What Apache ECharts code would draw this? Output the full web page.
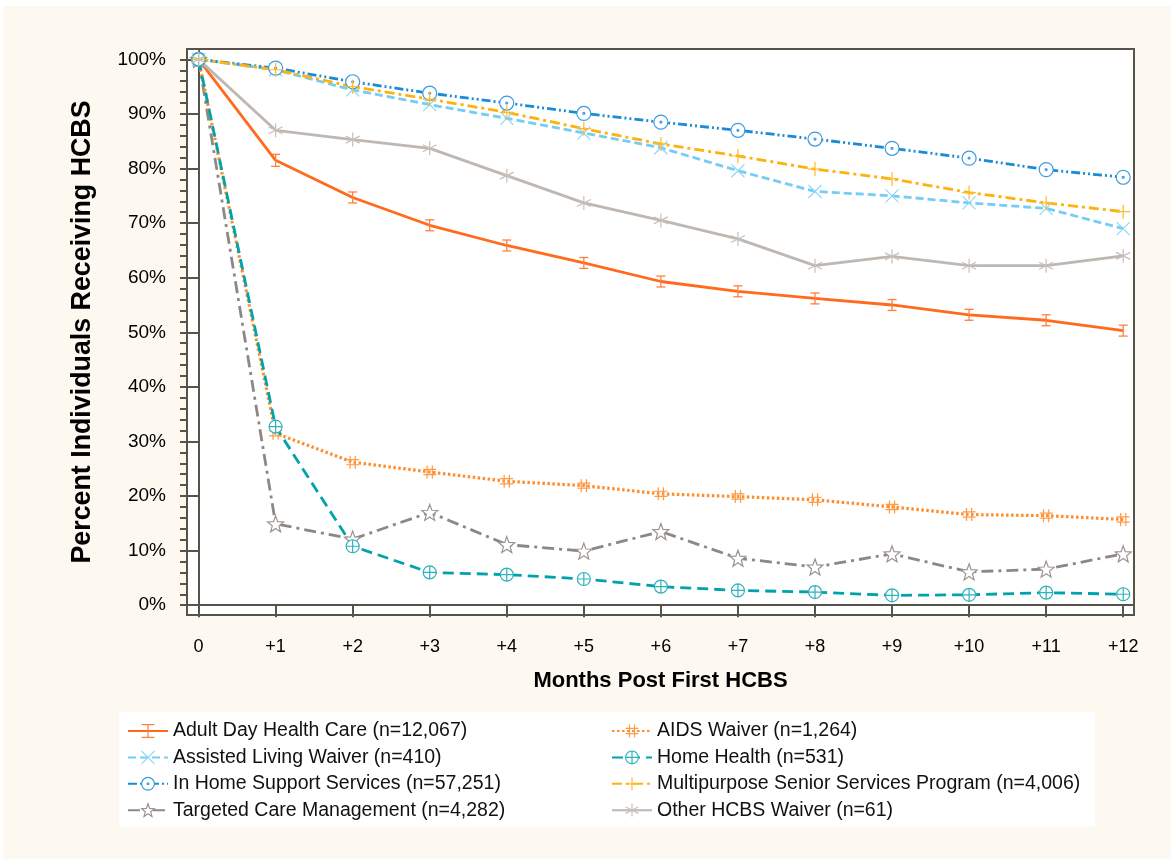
<!DOCTYPE html>
<html>
<head>
<meta charset="utf-8">
<script src="https://cdn.jsdelivr.net/npm/echarts@6/dist/echarts.min.js"></script>
<style>
html,body{margin:0;padding:0;background:#ffffff;}
#chart{width:1171px;height:859px;}
</style>
</head>
<body>
<div id="chart"></div>
<script>
// ---- data ----
const months = [0,1,2,3,4,5,6,7,8,9,10,11,12];
const xLabels = ['0','+1','+2','+3','+4','+5','+6','+7','+8','+9','+10','+11','+12'];
const yTicks = [0,10,20,30,40,50,60,70,80,90,100];
const yMinorTicks = [0,2,4,6,8,10,12,14,16,18,20,22,24,26,28,30,32,34,36,38,40,42,44,46,48,50,52,54,56,58,60,62,64,66,68,70,72,74,76,78,80,82,84,86,88,90,92,94,96,98,100];

const adhc    = [100,81.5,74.7,69.6,65.9,62.7,59.3,57.5,56.2,55.0,53.2,52.2,50.3];
const adhcErr = [0,1.1,1.0,1.0,1.0,1.0,1.0,1.0,1.0,1.0,1.0,1.0,1.0];
const alw     = [100,98.1,94.4,91.7,89.2,86.5,83.8,79.6,75.8,75.0,73.7,72.7,69.0];
const ihss    = [100,98.4,95.9,93.8,92.0,90.1,88.5,87.0,85.4,83.7,81.9,79.8,78.4];
const tcm     = [100,14.9,12.1,17.0,11.1,9.9,13.5,8.6,7.0,9.4,6.1,6.6,9.4];
const aids    = [100,31.5,26.2,24.4,22.7,21.9,20.4,19.9,19.3,18.0,16.6,16.4,15.7];
const hh      = [100,32.7,10.8,6.0,5.6,4.8,3.4,2.7,2.4,1.8,1.9,2.3,2.0];
const mssp    = [100,98.1,95.0,92.7,90.3,87.3,84.5,82.3,79.9,78.1,75.6,73.7,72.1];
const other   = [100,87.0,85.3,83.7,78.7,73.7,70.5,67.1,62.2,63.9,62.2,62.2,64.0];

const names = {
  adhc:'Adult Day Health Care (n=12,067)',
  alw:'Assisted Living Waiver (n=410)',
  ihss:'In Home Support Services (n=57,251)',
  tcm:'Targeted Care Management (n=4,282)',
  aids:'AIDS Waiver (n=1,264)',
  hh:'Home Health (n=531)',
  mssp:'Multipurpose Senior Services Program (n=4,006)',
  other:'Other HCBS Waiver (n=61)'
};

// ---- symbols ----
const SYM = {
  ibeam:'path://M0,0L8,0M4,0L4,12M0,12L8,12',
  cross:'path://M0,0L10,10M10,0L0,10',
  circDot:'path://M10,0A10,10,0,1,1,9.99,0ZM10,8.6A1.4,1.4,0,1,1,9.99,8.6Z',
  plus:'path://M5,0L5,10M0,5L10,5',
  aster:'path://M5,0L5,10M0.67,2.5L9.33,7.5M0.67,7.5L9.33,2.5',
  hash:'path://M3,0L3,10M7,0L7,10M0,3L10,3M0,7L10,7',
  circPlus:'path://M10,0A10,10,0,1,1,9.99,0ZM10,0L10,20M0,10L20,10',
  star:'path://M10,0L12.47,6.6L19.51,6.91L13.99,11.3L15.88,18.09L10,14.2L4.12,18.09L6.01,11.3L0.49,6.91L7.53,6.6Z'
};

const C = {
  adhc:'#ff6a1c', alw:'#74cdf4', ihss:'#1a8bd6', tcm:'#8e8783',
  aids:'#ff8d2c', hh:'#00a2ac', mssp:'#ffb10c', other:'#bfb7b1'
};
const MC = {
  adhc:'#ff7f3f', alw:'#8fd8f7', ihss:'#3a9be0', tcm:'#9a9390',
  aids:'#ff9a45', hh:'#2fb2ba', mssp:'#ffb928', other:'#c6bfba'
};

function lineSeries(key, data, symbol, size, lineType, width, extra) {
  return Object.assign({
    name: names[key],
    type: 'line',
    data: months.map((m,i)=>[m, data[i]]),
    symbol: symbol,
    symbolSize: size,
    lineStyle: {color: C[key], width: width, type: lineType},
    itemStyle: {color: '#ffffff', borderColor: MC[key], borderWidth: 1.2},
    z: 3
  }, extra || {});
}

const FONT = "Arial, 'Liberation Sans', sans-serif";

const series = [
  lineSeries('adhc', adhc, SYM.ibeam, [8,12], 'solid', 2.8, {showSymbol:false}),
  {
    name: names.adhc + ' err',
    type: 'custom',
    data: months.map((m,i)=>[m, adhc[i]-adhcErr[i], adhc[i]+adhcErr[i]]),
    renderItem: function(params, api){
      if (api.value(2) - api.value(1) <= 0) return null;
      const lo = api.coord([api.value(0), api.value(1)]);
      const hi = api.coord([api.value(0), api.value(2)]);
      const hw = 4.5;
      const st = {stroke: MC.adhc, lineWidth: 1.3};
      return {type:'group', children:[
        {type:'line', shape:{x1:lo[0],y1:lo[1],x2:hi[0],y2:hi[1]}, style:st},
        {type:'line', shape:{x1:lo[0]-hw,y1:lo[1],x2:lo[0]+hw,y2:lo[1]}, style:st},
        {type:'line', shape:{x1:hi[0]-hw,y1:hi[1],x2:hi[0]+hw,y2:hi[1]}, style:st}
      ]};
    },
    z: 4
  },
  lineSeries('alw', alw, SYM.cross, 13, [8,4], 2.8),
  lineSeries('ihss', ihss, SYM.circDot, 14, [9,3,2,3,2,3], 2.8),
  lineSeries('tcm', tcm, SYM.star, 16, [12,5,3,5], 2.8),
  lineSeries('aids', aids, SYM.hash, 13, [2.5,2.5], 3.2),
  lineSeries('hh', hh, SYM.circPlus, 13, [11,6], 2.8),
  lineSeries('mssp', mssp, SYM.plus, 14, [10,4,3,4], 2.8),
  lineSeries('other', other, SYM.aster, 14, 'solid', 2.8)
];

function legendItem(key) {
  return {name: names[key], itemStyle: {color:'#ffffff', borderColor: MC[key], borderWidth: 1.2}};
}

const legendText = {fontFamily: FONT, fontSize: 19.5, color: '#111'};

const chart = echarts.init(document.getElementById('chart'));
chart.setOption({
  backgroundColor: '#ffffff',
  animation: false,
  graphic: [
    {type:'rect', left:3, top:6, shape:{width:1168, height:853}, style:{fill:'#fdf9f1'}, z:-10, silent:true},
    {type:'rect', left:119, top:712, shape:{width:976, height:115}, style:{fill:'#ffffff'}, z:-5, silent:true}
  ],
  grid: {
    left: 187, right: 37, top: 49, bottom: 244,
    show: true, backgroundColor: '#ffffff', borderColor: '#57524a', borderWidth: 2
  },
  xAxis: {
    type: 'value', min: -0.15, max: 12.14,
    name: 'Months Post First HCBS',
    nameLocation: 'middle', nameGap: 55,
    nameTextStyle: {fontFamily: FONT, fontSize: 22, fontWeight: 'bold', color: '#000'},
    axisLine: {show: true, lineStyle: {color: '#57524a', width: 2}},
    axisTick: {show: true, customValues: months, length: 12, lineStyle: {color: '#57524a', width: 2}},
    axisLabel: {customValues: months, formatter: v => xLabels[months.indexOf(Math.round(v))], margin: 23,
                fontFamily: FONT, fontSize: 18, color: '#000'},
    splitLine: {show: false}
  },
  yAxis: [
    {
      type: 'value', min: -1.8, max: 101.9,
      name: 'Percent Individuals Receiving HCBS',
      nameLocation: 'middle', nameGap: 91,
      nameTextStyle: {fontFamily: FONT, fontSize: 26.8, fontWeight: 'bold', color: '#000'},
      axisLine: {show: true, lineStyle: {color: '#57524a', width: 2}},
      axisTick: {show: true, customValues: yTicks, length: 15, lineStyle: {color: '#57524a', width: 2}},
      axisLabel: {customValues: yTicks, formatter: v => Math.round(v) + '%', margin: 21,
                  fontFamily: FONT, fontSize: 19, color: '#000'},
      splitLine: {show: false}
    },
    {
      type: 'value', min: -1.8, max: 101.9, position: 'left',
      axisLine: {show: false},
      axisTick: {show: true, customValues: yMinorTicks, length: 7, lineStyle: {color: '#57524a', width: 2}},
      axisLabel: {show: false},
      splitLine: {show: false}
    }
  ],
  legend: [
    {
      orient: 'vertical', left: 122, top: 716,
      itemWidth: 40, itemHeight: 16, itemGap: 6.4,
      textStyle: legendText,
      data: ['adhc','alw','ihss','tcm'].map(legendItem)
    },
    {
      orient: 'vertical', left: 606, top: 716,
      itemWidth: 40, itemHeight: 16, itemGap: 6.4,
      textStyle: legendText,
      data: ['aids','hh','mssp','other'].map(legendItem)
    }
  ],
  series: series
});
</script>
</body>
</html>
